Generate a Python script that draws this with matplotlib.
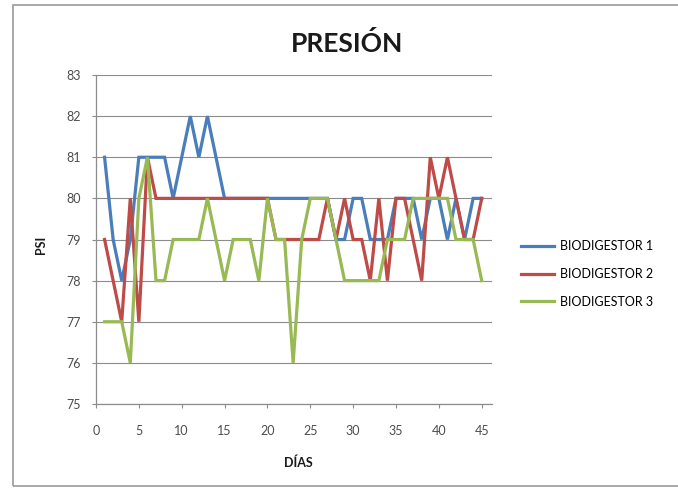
import matplotlib.pyplot as plt
from matplotlib.lines import Line2D

# pressure readings (psi) per day for the three digesters
dias = list(range(1, 46))
bio1 = [81, 79, 78, 79, 81, 81, 81, 81, 80, 81, 82, 81, 82, 81, 80,
        80, 80, 80, 80, 80, 80, 80, 80, 80, 80, 80, 80, 79, 79, 80,
        80, 79, 79, 79, 80, 80, 80, 79, 80, 80, 79, 80, 79, 80, 80]
bio2 = [79, 78, 77, 80, 77, 81, 80, 80, 80, 80, 80, 80, 80, 80, 80,
        80, 80, 80, 80, 80, 79, 79, 79, 79, 79, 79, 80, 79, 80, 79,
        79, 78, 80, 78, 80, 80, 79, 78, 81, 80, 81, 80, 79, 79, 80]
bio3 = [77, 77, 77, 76, 80, 81, 78, 78, 79, 79, 79, 79, 80, 79, 78,
        79, 79, 79, 78, 80, 79, 79, 76, 79, 80, 80, 80, 79, 78, 78,
        78, 78, 78, 79, 79, 79, 80, 80, 80, 80, 80, 79, 79, 79, 78]
series = ['BIODIGESTOR 1', 'BIODIGESTOR 2', 'BIODIGESTOR 3']
colores = ['#4A7EBB', '#BE4B48', '#98B954']

plt.rcParams['font.family'] = ['Lato', 'DejaVu Sans']

fig = plt.figure(figsize=(6.78, 4.90), dpi=100)
ax = fig.add_axes([96 / 678, 1 - 404 / 490, 396 / 678, 329 / 490])

for vals, nombre, c in zip([bio1, bio2, bio3], series, colores):
    ax.plot(dias, vals, color=c, lw=2.3, label=nombre, solid_joinstyle='miter')

ax.set_xlim(0, 46.2)
ax.set_ylim(75, 83)
ax.set_xticks(range(0, 46, 5))
ax.set_yticks(range(75, 84))
ax.grid(axis='y', color='#8c8c8c', lw=0.8)
ax.set_axisbelow(True)
for s in ['top', 'right']:
    ax.spines[s].set_visible(False)
for s in ['left', 'bottom']:
    ax.spines[s].set_color('#8c8c8c')
    ax.spines[s].set_linewidth(0.9)
ax.tick_params(axis='both', colors='#8c8c8c', labelcolor='#4d4d4d',
               labelsize=9, length=3)
ax.tick_params(axis='y', pad=8)
ax.tick_params(axis='x', pad=12)

fig.text(0.512, 0.912, 'PRESIÓN', ha='center', va='center',
         fontsize=19, fontweight='bold', color='#1a1a1a')
fig.text(0.060, 0.50, 'PSI', ha='center', va='center', rotation=90,
         fontsize=9, fontweight='bold', color='#1a1a1a')
fig.text(0.440, 0.055, 'DÍAS', ha='center', va='center',
         fontsize=9, fontweight='bold', color='#1a1a1a')

handles = [Line2D([], [], color=c, lw=2.3) for c in colores]
fig.legend(handles, series, loc='center left',
           bbox_to_anchor=(510 / 678, 1 - 274 / 490), frameon=False,
           fontsize=9, handlelength=2.6, handletextpad=0.5, labelspacing=1.25)

# chart area border
borde = plt.Rectangle((13 / 678, 1 - 486 / 490), 1.0, 481 / 490,
                      transform=fig.transFigure, fill=False,
                      edgecolor='#9a9a9a', lw=1.2)
fig.patches.append(borde)

fig.savefig('out.png', dpi=100)
